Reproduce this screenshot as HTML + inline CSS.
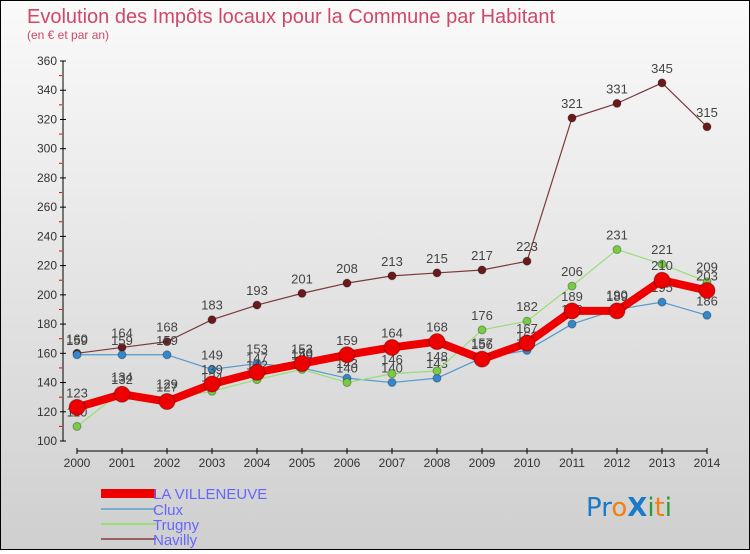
<!DOCTYPE html>
<html><head><meta charset="utf-8">
<style>
html,body{margin:0;padding:0}
body{width:750px;height:550px;overflow:hidden;font-family:"Liberation Sans","DejaVu Sans",sans-serif}
#wrap{position:relative;width:748px;height:548px;border:1px solid #000;background:linear-gradient(#fafafa,#cfcfcf)}
</style></head>
<body>
<div id="wrap">
<svg id="chart" width="748" height="548" xmlns="http://www.w3.org/2000/svg">
<text x="26" y="22" font-size="20" fill="#d04868">Evolution des Impôts locaux pour la Commune par Habitant</text>
<text x="26" y="38" font-size="12" fill="#d04868">(en € et par an)</text>
<g id="axes"></g>
<g id="series"></g>
<g id="legend">
<rect x="100" y="488" width="55" height="9" fill="#e00"/>
<text x="152" y="498" font-size="15" fill="#6666ff">LA VILLENEUVE</text>
<rect x="100" y="507" width="55" height="2" fill="#7aaed0"/>
<text x="152" y="514" font-size="15" fill="#6666ff">Clux</text>
<rect x="100" y="522" width="55" height="2" fill="#99dd77"/>
<text x="152" y="529" font-size="15" fill="#6666ff">Trugny</text>
<rect x="100" y="537" width="55" height="2" fill="#9a6060"/>
<text x="152" y="544" font-size="15" fill="#6666ff">Navilly</text>
</g>
<g font-family="'DejaVu Sans',sans-serif" font-size="26">
<text x="585" y="515"><tspan fill="#1a7ac8">Pr</tspan><tspan fill="#f08010">o</tspan><tspan fill="#1a7ac8" font-weight="bold">X</tspan><tspan fill="#2a9a3a">i</tspan><tspan fill="#f08010">t</tspan><tspan fill="#2a9a3a">i</tspan></text>
</g>
</svg>
</div>
<script>
const years=[2000,2001,2002,2003,2004,2005,2006,2007,2008,2009,2010,2011,2012,2013,2014];
const yTicks=[100,120,140,160,180,200,220,240,260,280,300,320,340,360];
const villeneuve=[123,132,127,139,147,153,159,164,168,156,167,189,189,210,203];
const clux=[159,159,159,149,153,150,143,140,143,157,162,180,190,195,186];
const trugny=[110,134,129,134,142,149,140,146,148,176,182,206,231,221,209];
const navilly=[160,164,168,183,193,201,208,213,215,217,223,321,331,345,315];
const NS="http://www.w3.org/2000/svg";
function xs(i){return 76+i*45;}
function ys(v){return 440-(v-100)*380/260;}
function mk(tag,attrs,parent){const e=document.createElementNS(NS,tag);for(const k in attrs)e.setAttribute(k,attrs[k]);parent.appendChild(e);return e;}
const ax=document.getElementById('axes');
let l=mk('line',{x1:62,y1:60,x2:62,y2:440,stroke:'#000','stroke-width':1},ax);


l=mk('line',{x1:76,y1:450,x2:706,y2:450,stroke:'#000','stroke-width':1},ax);


for(let v=110;v<360;v+=20){mk('line',{x1:58,y1:ys(v),x2:61,y2:ys(v),stroke:'#e00'},ax);}
yTicks.forEach(v=>{
  mk('line',{x1:59,y1:ys(v),x2:65,y2:ys(v),stroke:'#000'},ax);
  const t=mk('text',{x:56,y:ys(v)+4,'font-size':12,fill:'#333','text-anchor':'end'},ax);
  t.textContent=v;
  
  
});
years.forEach((y,i)=>{
  mk('line',{x1:xs(i),y1:447,x2:xs(i),y2:453,stroke:'#000'},ax);
  const t=mk('text',{x:xs(i),y:466,'font-size':12,fill:'#333','text-anchor':'middle'},ax);
  t.textContent=y;
  
  
});
const sg=document.getElementById('series');
function draw(arr,name,color,w,r,dot){
  const g=mk('g',{},sg);
  
  
  const p=mk('polyline',{points:arr.map((v,i)=>xs(i)+','+ys(v)).join(' '),fill:'none',stroke:color,'stroke-width':w,'stroke-linejoin':'round'},g);
  
  
  arr.forEach((v,i)=>{
    const c=mk('circle',{cx:xs(i),cy:ys(v),r:r,fill:dot,stroke:'rgba(0,0,0,0.3)','stroke-width':1},g);
    
    
    const t=mk('text',{x:xs(i),y:ys(v)-10,'font-size':13,fill:'#444','text-anchor':'middle'},g);
    t.textContent=v;
    
    
  });
}
draw(navilly,'navilly','#7a3a3a',1.2,4,'#6a1a1a');
draw(clux,'clux','#5599cc',1.2,4,'#3388cc');
draw(trugny,'trugny','#99dd77',1.2,4,'#77cc44');
draw(villeneuve,'la-villeneuve','#ee0000',8,8,'#ee0000');
</script>
</body></html>
